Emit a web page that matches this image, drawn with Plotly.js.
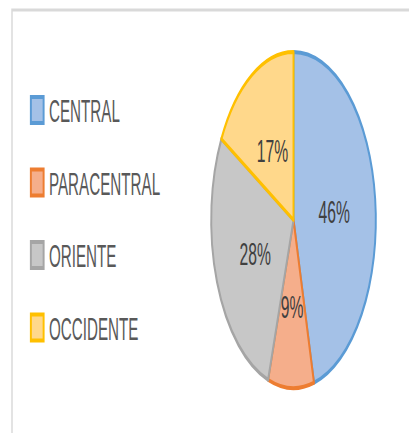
<!DOCTYPE html>
<html>
<head>
<meta charset="utf-8">
<script src="https://cdn.plot.ly/plotly-3.0.1.min.js"></script>
<style>
html, body { margin: 0; padding: 0; background: #ffffff; overflow: hidden; width: 409px; height: 433px; }
#chart { width: 835px; height: 433px; transform: scaleX(0.49); transform-origin: 0 0; }
</style>
</head>
<body>
<div id="chart"></div>
<script>
// Data
const categories = ['CENTRAL', 'PARACENTRAL', 'ORIENTE', 'OCCIDENTE'];
const shares = [46, 9, 28, 17];
const fillColors = ['#a4c1e7', '#f5ae8b', '#c7c7c7', '#ffd88b'];
const lineColors = ['#5b9bd5', '#ed7d31', '#a5a5a5', '#ffc000'];

const W = 835, H = 433;
const dom = { x: [431 / W, 767 / W], y: [45 / H, 381 / H] };

// label positions derived from the data (mid-angle of each slice, half radius)
const total = shares.reduce((a, b) => a + b, 0);
const cxPx = (dom.x[0] + dom.x[1]) / 2 * W;
const cyPx = (dom.y[0] + dom.y[1]) / 2 * H;
const rPx = Math.min((dom.x[1] - dom.x[0]) * W, (dom.y[1] - dom.y[0]) * H) / 2;
let cum = 0;
const annotations = shares.map(function (v) {
  const mid = (cum + v / 2) / total * 2 * Math.PI;
  cum += v;
  const px = cxPx + 0.5 * rPx * Math.sin(mid);
  const py = cyPx + 0.5 * rPx * Math.cos(mid);
  return {
    xref: 'paper', yref: 'paper', x: px / W, y: py / H,
    xanchor: 'center', yanchor: 'middle', showarrow: false, yshift: -3,
    text: Math.round(v / total * 100) + '%',
    font: { family: 'Liberation Sans, Arial, sans-serif', size: 32, color: '#404040' }
  };
});

const trace = {
  type: 'pie',
  labels: categories,
  values: shares,
  sort: false,
  direction: 'clockwise',
  rotation: 0,
  textinfo: 'none',
  marker: { colors: fillColors, line: { color: lineColors, width: 4 } },
  domain: dom,
  hoverinfo: 'label+percent'
};

const layout = {
  width: W,
  height: H,
  margin: { l: 0, r: 0, t: 0, b: 0 },
  paper_bgcolor: '#ffffff',
  showlegend: true,
  legend: {
    x: 60 / W, xanchor: 'left',
    y: 1 - 84 / H, yanchor: 'top',
    font: { family: 'Liberation Sans, Arial, sans-serif', size: 31, color: '#595959' },
    itemwidth: 30,
    bgcolor: 'rgba(0,0,0,0)'
  },
  annotations: annotations,
  shapes: [
    { type: 'rect', xref: 'paper', yref: 'paper', x0: 24.5 / W, x1: 1.2, y0: -0.2, y1: 1 - 10 / H,
      line: { color: '#d9d9d9', width: 3 }, fillcolor: 'rgba(0,0,0,0)' }
  ]
};

Plotly.newPlot('chart', [trace], layout, { staticPlot: true, displayModeBar: false }).then(function () {
  const root = document.getElementById('chart');
  root.querySelectorAll('.legend .scrollbox').forEach(function (s) { s.removeAttribute('clip-path'); });
  root.querySelectorAll('.legend .legendpoints path').forEach(function (p) {
    p.setAttribute('transform', 'translate(16,0)');
    p.setAttribute('d', 'M13,13H-13V-13H13Z');
    p.style.strokeWidth = '4px';
  });
  const items = root.querySelectorAll('.legend .traces');
  const spacing = 72.5, firstCenter = 110;
  items.forEach(function (g, i) {
    const r = g.getBoundingClientRect();
    const center = (r.top + r.bottom) / 2;
    const shift = firstCenter + i * spacing - center;
    const m = /translate\(\s*([-\d.]+)[ ,]+([-\d.]+)\s*\)/.exec(g.getAttribute('transform') || '');
    const tx = m ? parseFloat(m[1]) : 0;
    const ty = m ? parseFloat(m[2]) : 0;
    g.setAttribute('transform', 'translate(' + tx + ',' + (ty + shift) + ')');
  });
});
</script>
</body>
</html>
